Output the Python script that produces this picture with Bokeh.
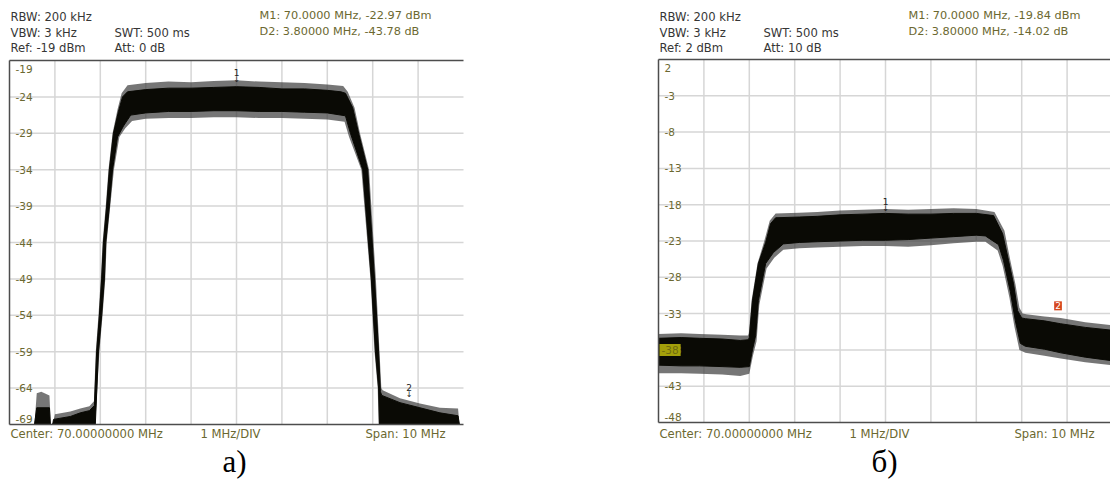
from bokeh.plotting import figure
from bokeh.layouts import row
from bokeh.models import Label, Range1d
from bokeh.core.properties import value
from bokeh.embed import file_html
from bokeh.resources import INLINE

# ---------------- data ----------------
freq_ticks = [66, 67, 68, 69, 70, 71, 72, 73, 74]
freq_span = [65.0, 75.0]
a_level_ticks = [-19, -24, -29, -34, -39, -44, -49, -54, -59, -64, -69]
b_level_ticks = [2, -3, -8, -13, -18, -23, -28, -33, -38, -43, -48]

# panel a) trace: dense upper / lower envelope (MHz, dBm); trace is cut at the screen bottom (-69)
a_up_f = [65.55, 65.60, 65.88, 65.90, 65.95, 65.97, 66.34, 66.56, 66.76, 66.87, 66.92, 66.98, 67.03, 67.07,
          67.14, 67.20, 67.29, 67.40, 67.49, 67.60, 68.0, 68.5, 69.0, 69.5, 70.0, 70.5, 71.0, 71.5, 72.0,
          72.30, 72.40, 72.56, 72.69, 72.89, 73.04, 73.13, 73.17, 73.20, 73.60, 74.04, 74.48, 74.88, 74.91]
a_up_db = [-69.0, -66.7, -66.7, -69.0, -69.0, -68.3, -67.9, -67.4, -67.1, -66.4, -59, -54, -49, -44,
           -39, -34, -29, -26, -24, -23.3, -23.0, -22.8, -22.8, -22.7, -22.6, -22.7, -22.9, -22.9, -23.1,
           -23.3, -23.5, -25.5, -29, -34, -49, -59, -64.5, -65.0, -66.0, -66.7, -67.4, -67.8, -69.0]
a_lo_f = [65.55, 66.89, 66.96, 67.03, 67.09, 67.12, 67.20, 67.27, 67.38, 67.51, 67.67, 68.0, 68.5, 69.0,
          69.5, 70.0, 70.5, 71.0, 71.5, 72.0, 72.40, 72.51, 72.78, 72.97, 73.06, 73.13, 73.15, 74.91]
a_lo_db = [-69, -69, -59, -54, -49, -44, -39, -34, -29.5, -28, -26.5, -26.2, -26.0, -26.0,
           -25.9, -25.9, -26.0, -26.0, -26.1, -26.2, -26.6, -29, -34, -49, -59, -64, -69, -69]
# panel a) noise spikes (outer fringe)
a_fu_f = [65.55, 65.60, 65.70, 65.88, 65.91, 65.96, 66.0, 66.34, 66.56, 66.76, 66.86, 66.90, 66.96, 67.01,
          67.05, 67.12, 67.18, 67.27, 67.38, 67.47, 67.60, 68.0, 68.5, 69.0, 69.5, 70.0, 70.5, 71.0, 71.5,
          72.0, 72.35, 72.45, 72.60, 72.72, 72.92, 73.07, 73.15, 73.19, 73.22, 73.6, 74.04, 74.48, 74.88, 74.91]
a_fu_db = [-69, -64.7, -64.5, -65.0, -69.0, -68.8, -67.6, -67.2, -66.8, -66.5, -65.8, -59, -54, -49,
           -44, -39, -34, -29, -25.7, -23.5, -22.4, -22.1, -21.9, -22.0, -21.8, -21.7, -21.9, -22.0, -22.1,
           -22.3, -22.5, -23.3, -25.5, -29, -34, -49, -59, -64.0, -64.3, -65.4, -66.1, -66.7, -66.8, -69]
a_fl_f = [65.55, 66.89, 66.98, 67.05, 67.11, 67.14, 67.22, 67.30, 67.42, 67.55, 67.70, 68.0, 68.5, 69.0,
          69.5, 70.0, 70.5, 71.0, 71.5, 72.0, 72.38, 72.48, 72.75, 72.95, 73.04, 73.11, 73.13, 74.91]
a_fl_db = [-69, -69, -59, -54, -49, -44, -39, -34, -29.5, -28.3, -27.3, -27.0, -26.9, -26.9,
           -26.8, -26.8, -26.9, -26.9, -27.0, -27.1, -27.4, -29.5, -34, -49, -59, -64, -69, -69]

# panel b) trace
b_up_f = [65.0, 65.5, 65.9, 66.4, 66.8, 66.98, 67.00, 67.07, 67.20, 67.36, 67.47, 67.58, 68.1, 68.5, 69.0,
          69.5, 70.0, 70.5, 71.0, 71.5, 72.0, 72.38, 72.58, 72.71, 72.82, 72.91, 73.00, 73.08, 73.5, 73.86,
          74.4, 75.0]
b_up_db = [-36.4, -36.3, -36.4, -36.5, -36.7, -36.6, -36.3, -31.2, -26.1, -23.2, -20.6, -19.8, -19.7, -19.6,
           -19.4, -19.3, -19.2, -19.3, -19.3, -19.2, -19.2, -19.5, -22.0, -25.7, -28.9, -32.6, -33.6, -33.7,
           -34.0, -34.4, -34.9, -35.3]
b_lo_f = [65.0, 65.5, 65.9, 66.4, 66.8, 67.0, 67.07, 67.14, 67.20, 67.36, 67.53, 67.75, 68.1, 68.5, 69.0,
          69.5, 70.0, 70.5, 71.0, 71.5, 72.0, 72.20, 72.49, 72.60, 72.75, 72.86, 72.97, 73.08, 73.5, 73.86,
          74.4, 75.0]
b_lo_db = [-40.1, -40.2, -40.2, -40.3, -40.4, -40.3, -38.0, -36.0, -31.2, -26.1, -24.6, -23.4, -23.2, -23.1,
           -23.0, -22.9, -22.9, -22.8, -22.6, -22.4, -22.2, -22.3, -23.5, -25.7, -30.0, -34.0, -37.1, -37.5,
           -37.9, -38.4, -39.0, -39.5]
b_fu_f = [65.0, 65.5, 65.9, 66.4, 66.8, 66.97, 66.99, 67.05, 67.18, 67.33, 67.45, 67.58, 68.1, 68.5, 69.0,
          69.5, 70.0, 70.5, 71.0, 71.5, 72.0, 72.40, 72.62, 72.75, 72.86, 72.95, 73.02, 73.1, 73.5, 73.86,
          74.4, 75.0]
b_fu_db = [-35.8, -35.7, -35.8, -35.9, -36.0, -36.0, -35.7, -31.2, -26.1, -23.0, -20.2, -19.2, -19.1, -19.0,
           -18.8, -18.7, -18.6, -18.7, -18.6, -18.5, -18.6, -19.0, -21.6, -25.7, -28.9, -32.2, -33.0, -33.1,
           -33.4, -33.6, -34.2, -34.6]
b_fl_f = [65.0, 65.5, 65.9, 66.4, 66.8, 67.0, 67.08, 67.16, 67.22, 67.38, 67.55, 67.75, 68.1, 68.5, 69.0,
          69.5, 70.0, 70.5, 71.0, 71.5, 72.0, 72.20, 72.47, 72.58, 72.73, 72.84, 72.95, 73.08, 73.5, 73.86,
          74.4, 75.0]
b_fl_db = [-41.2, -41.2, -41.3, -41.4, -41.6, -41.3, -38.8, -36.8, -31.8, -26.8, -25.3, -24.2, -24.0, -23.9,
           -23.8, -23.7, -23.7, -23.8, -23.6, -23.3, -23.1, -23.1, -24.3, -26.4, -30.8, -34.8, -38.0, -38.4,
           -38.8, -39.2, -39.7, -40.1]

# markers: M1 (absolute) and D2 (delta from M1)
a_m1 = (70.0, -22.97)
a_d2 = (3.8, -43.78)
b_m1 = (70.0, -19.84)
b_d2 = (3.8, -14.02)
b_ref_line = -38

a_header = ["RBW: 200 kHz", "VBW: 3 kHz", "Ref: -19 dBm", "SWT: 500 ms", "Att: 0 dB",
            "M1: 70.0000 MHz, -22.97 dBm", "D2: 3.80000 MHz, -43.78 dB"]
b_header = ["RBW: 200 kHz", "VBW: 3 kHz", "Ref: 2 dBm", "SWT: 500 ms", "Att: 10 dB",
            "M1: 70.0000 MHz, -19.84 dBm", "D2: 3.80000 MHz, -14.02 dB"]
footer = ["Center: 70.00000000 MHz", "1 MHz/DIV", "Span: 10 MHz"]
captions = ["а)", "б)"]

# ---------------- style ----------------
FONT = "DejaVu Sans"
DARK = "#363636"
OLIVE = "#6b6830"
GRID = "#d6d6d6"
BORDER = "#4d4d4d"
TRACE = "#0a0a05"
FRINGE = "#3c3c3c"
PX_PER_DIV = 45.4
CANVAS_H = 480


def build(page_x0, width, frame_left, frame_top, frame_bottom, y_ticks, header, m1, d2,
          up_f, up_db, lo_f, lo_db, fu_f, fu_db, fl_f, fl_db, caption, cap_x):
    top_v, bot_v = y_ticks[0], y_ticks[-1]
    px_db = (frame_bottom - frame_top) / (top_v - bot_v)
    x0 = freq_span[0] - (frame_left - page_x0) / PX_PER_DIV
    x1 = freq_span[0] + (page_x0 + width - frame_left) / PX_PER_DIV
    y1 = top_v + frame_top / px_db
    y0 = bot_v - (CANVAS_H - frame_bottom) / px_db
    p = figure(width=width, height=CANVAS_H, x_range=Range1d(x0, x1), y_range=Range1d(y0, y1),
               x_axis_type=None, y_axis_type=None, toolbar_location=None, output_backend="svg",
               min_border=0, outline_line_color=None,
               background_fill_color="white", border_fill_color="white")

    def fx(px):
        return freq_span[0] + (px - frame_left) / PX_PER_DIV

    def fy(py):
        return top_v - (py - frame_top) / px_db

    right = min(freq_span[1], x1)
    # grid
    p.segment(x0=freq_ticks, y0=[bot_v] * len(freq_ticks), x1=freq_ticks, y1=[top_v] * len(freq_ticks),
              line_color=GRID, line_width=1.5)
    mids = y_ticks[1:-1]
    p.segment(x0=[freq_span[0]] * len(mids), y0=mids, x1=[right] * len(mids), y1=mids,
              line_color=GRID, line_width=1.5)

    # trace
    p.patch(fu_f + fl_f[::-1], fu_db + fl_db[::-1], fill_color=FRINGE, fill_alpha=0.7, line_color=None)
    p.patch(up_f + lo_f[::-1], up_db + lo_db[::-1], fill_color=TRACE, line_color=TRACE, line_width=1)

    # frame borders (left, top, bottom)
    p.segment(x0=[freq_span[0], freq_span[0], freq_span[0]], y0=[bot_v, top_v, bot_v],
              x1=[freq_span[0], right, right], y1=[top_v, top_v, bot_v],
              line_color=BORDER, line_width=1.5)

    # level labels inside frame
    kw = dict(text_font=value(FONT), text_font_size=value("10.5px"), text_color=OLIVE, x_offset=6)
    p.text(x=[freq_span[0]] * len(mids), y=mids, text=[str(v) for v in mids], text_baseline="middle", **kw)
    p.text(x=[freq_span[0]], y=[top_v], text=[str(top_v)], text_baseline="top", y_offset=4, **kw)
    p.text(x=[freq_span[0]], y=[bot_v], text=[str(bot_v)], text_baseline="bottom", y_offset=-2, **kw)

    def page_text(txt, px, py, color, size="11.6px", font=FONT, align="left"):
        p.text(x=[fx(px)], y=[fy(py)], text=[txt], text_color=color, text_font=value(font),
               text_font_size=value(size), text_align=align, text_baseline="middle")

    hx = frame_left + 1
    page_text(header[0], hx, 16, DARK)
    page_text(header[1], hx, 32, DARK)
    page_text(header[2], hx, 47, DARK)
    page_text(header[3], hx + 104, 32, DARK)
    page_text(header[4], hx + 104, 47, DARK)
    page_text(header[5], hx + 249, 15, OLIVE, size="11.3px")
    page_text(header[6], hx + 249, 31, OLIVE, size="11.3px")
    page_text(footer[0], frame_left + 1, 433, OLIVE)
    page_text(footer[1], frame_left + 191, 433, OLIVE)
    page_text(footer[2], frame_left + 356, 433, OLIVE)
    page_text(caption, cap_x, 461, "black", size="31px", font="Liberation Serif", align="center")

    # markers
    mk = dict(text_font=value(FONT), text_align="center", text_color="#222222", text_baseline="middle")
    p.text(x=[m1[0]], y=[m1[1]], text=["1"], text_font_size=value("9px"), y_offset=-17, **mk)
    p.text(x=[m1[0]], y=[m1[1]], text=["↓"], text_font_size=value("8px"), y_offset=-10, **mk)
    return p, (m1[0] + d2[0], m1[1] + d2[1]), mk


pa, a2, mk = build(0, 650, 9, 60, 424, a_level_ticks, a_header, a_m1, a_d2,
                   a_up_f, a_up_db, a_lo_f, a_lo_db, a_fu_f, a_fu_db, a_fl_f, a_fl_db, captions[0], 234)
pb, b2, _ = build(650, 460, 658, 59, 422, b_level_ticks, b_header, b_m1, b_d2,
                  b_up_f, b_up_db, b_lo_f, b_lo_db, b_fu_f, b_fu_db, b_fl_f, b_fl_db, captions[1], 884)

pa.text(x=[a2[0]], y=[a2[1]], text=["2"], text_font_size=value("9px"), y_offset=-21, **mk)
pa.text(x=[a2[0]], y=[a2[1]], text=["↓"], text_font_size=value("8px"), y_offset=-14, **mk)

pb.add_layout(Label(x=b2[0], y=b2[1], text="2", text_color="white", text_font=FONT, text_font_size="9px",
                    text_align="center", text_baseline="middle", y_offset=14,
                    background_fill_color="#d6461c", padding=1))
pb.add_layout(Label(x=freq_span[0], y=b_ref_line, text=str(b_ref_line), text_color="#6e6b10", text_font=FONT,
                    text_font_size="10.5px", text_align="left", text_baseline="middle", x_offset=1,
                    background_fill_color="#a39f0a", padding=2))

layout = row(pa, pb)
open("out.html", "w").write(file_html(layout, INLINE))
